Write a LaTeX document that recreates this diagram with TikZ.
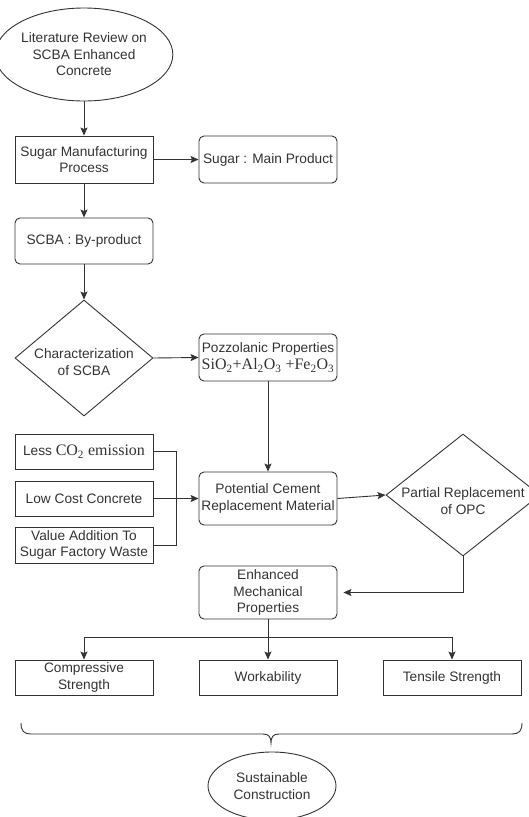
\documentclass[tikz,border=0pt]{standalone}
\usepackage{fontspec}
\setmainfont{Liberation Sans}
\newfontfamily\chemfont{Liberation Serif}
\usetikzlibrary{shapes.geometric,arrows.meta}
\begin{document}
\begin{tikzpicture}[x=1pt,y=-1pt,
  every node/.style={font=\fontsize{13.7}{16.6}\selectfont, text=black!80},
  base/.style={draw=black!80, line width=0.9pt, minimum width=138pt, align=center, inner sep=1pt},
  sharpbox/.style={base},
  roundbox/.style={base, rounded corners=5pt},
  oval/.style={draw=black!80, line width=0.9pt, ellipse, inner sep=0pt, align=center},
  decision/.style={draw=black!80, line width=0.9pt, diamond, inner sep=0pt},
  caption/.style={align=center, inner sep=0pt},
  link/.style={draw=black!80, line width=0.9pt},
  arr/.style={link, -{Stealth[length=8pt,width=7pt,inset=1.5pt]}},
]
\useasboundingbox (0,0) rectangle (529,817);
\clip (0,0) rectangle (529,817);

% main column
\node[oval, minimum width=150pt, minimum height=93pt] (lit) at (84,54.5)
  {Literature Review on\\SCBA Enhanced\\Concrete};
\node[sharpbox, minimum height=47pt] (smp) at (84,159.5) {Sugar Manufacturing\\Process};
\node[roundbox, minimum height=47pt] (sug) at (268,159.5) {Sugar : Main Product};
\node[roundbox, minimum height=46pt] (byp) at (84,241) {SCBA : By-product};
\node[decision, minimum width=138pt, minimum height=116pt] (char) at (84,358) {};
\node[caption] (chartext) at (84,362) {Characterization\\of SCBA};
\node[roundbox, minimum height=47pt] (poz) at (268,357.5)
  {Pozzolanic Properties\\[1pt]{\chemfont\fontsize{16}{18}\selectfont SiO\textsubscript{2}+Al\textsubscript{2}O\textsubscript{3} +Fe\textsubscript{2}O\textsubscript{3}}};

% benefits feeding the replacement material
\node[sharpbox, minimum height=35pt] (less) at (84,451.5)
  {Less {\chemfont\fontsize{16}{18}\selectfont CO\textsubscript{2} emission}};
\node[sharpbox, minimum height=35pt] (low) at (84,498.5) {Low Cost Concrete};
\node[sharpbox, minimum height=36pt] (val) at (84,545) {Value Addition To\\Sugar Factory Waste};
\node[roundbox, minimum height=53pt] (pcrm) at (268,498.5) {Potential Cement\\Replacement Material};
\node[decision, minimum width=154pt, minimum height=122pt] (prt) at (463,495) {};
\node[caption] (prttext) at (463,501) {Partial Replacement\\of OPC};

% mechanical properties
\node[roundbox, minimum height=53pt] (emp) at (268,592.5) {Enhanced\\Mechanical\\Properties};
\node[sharpbox, minimum height=35pt] (comp) at (84,677.5) {Compressive\\Strength};
\node[sharpbox, minimum height=35pt] (work) at (268,677.5) {Workability};
\node[sharpbox, minimum height=35pt] (tens) at (452,677.5) {Tensile Strength};
\node[oval, minimum width=128pt, minimum height=68pt] (sus) at (272,786) {Sustainable\\Construction};

% connectors
\draw[arr] (lit.south) -- (smp.north);
\draw[arr] (smp.east) -- (sug.west);
\draw[arr] (smp.south) -- (byp.north);
\draw[arr] (byp.south) -- (char.north);
\draw[arr] (char.east) -- (poz.west);
\draw[arr] (poz.south) -- (pcrm.north);
\coordinate (merge) at (176,545);
\draw[link] (less.east) -| (merge) -- (val.east);
\draw[arr] (low.east) -- (pcrm.west);
\draw[arr] (pcrm.east) -- (prt.west);
\draw[arr, shorten >=6pt] (prt.south) |- (emp.east);
\coordinate (split) at (268,637);
\draw[arr] (emp.south) -- (work.north);
\draw[arr] (split) -| (comp.north);
\draw[arr] (split) -| (tens.north);

% curly brace over the three properties
\coordinate (bl) at (21,723);
\coordinate (br) at (522,723);
\coordinate (btip) at (271,743);
\draw[link] (bl) .. controls (21,731) and (24,734) .. (31,734) -- (263,734)
  .. controls (269,734) and (271,737) .. (btip)
  .. controls (271,737) and (273,734) .. (279,734) -- (512,734)
  .. controls (519,734) and (522,731) .. (br);
\end{tikzpicture}
\end{document}
